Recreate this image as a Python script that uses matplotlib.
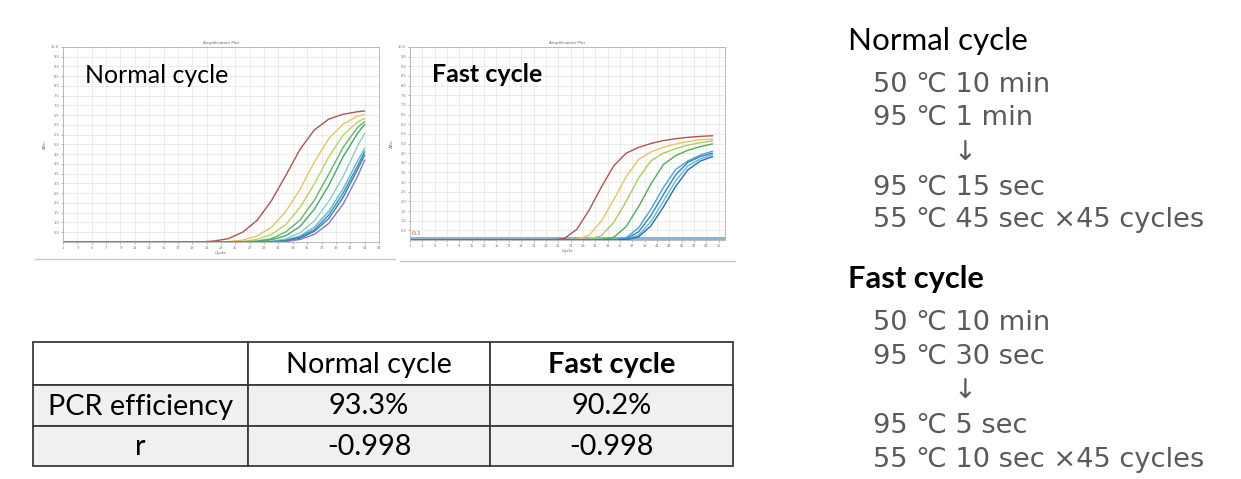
import matplotlib
matplotlib.use("Agg")
import matplotlib.pyplot as plt
from matplotlib.patches import Rectangle

W, H = 1241, 479

# ---- amplification curves, normal cycle (delta Rn)
normal_cycles = [1, 18, 20, 22, 24, 26, 28, 30, 32, 34, 36, 38, 40, 42, 43]
normal_red = [0, 0, 0.0, 0.05, 0.17, 0.5, 1.1, 2.1, 3.4, 4.75, 5.75, 6.3, 6.55, 6.68, 6.72]
normal_yellow = [0, 0, 0, 0, 0.02, 0.1, 0.3, 0.75, 1.55, 2.7, 4.1, 5.3, 6.05, 6.45, 6.53]
normal_ygreen = [0, 0, 0, 0, 0, 0.03, 0.13, 0.38, 0.89, 1.77, 2.98, 4.36, 5.48, 6.15, 6.34]
normal_green = [0, 0, 0, 0, 0, 0, 0.05, 0.17, 0.51, 1.12, 2.14, 3.47, 4.85, 5.87, 6.17]
normal_green2 = [0, 0, 0, 0, 0, 0, 0.02, 0.11, 0.32, 0.79, 1.68, 2.9, 4.37, 5.56, 6.03]
normal_mint = [0, 0, 0, 0, 0, 0, 0, 0.04, 0.16, 0.47, 1.08, 2.08, 3.35, 4.91, 5.57]
normal_lblue = [0, 0, 0, 0, 0, 0, 0, 0.02, 0.1, 0.3, 0.76, 1.57, 2.73, 4.14, 4.8]
normal_blue = [0, 0, 0, 0, 0, 0, 0, 0.01, 0.08, 0.25, 0.63, 1.38, 2.5, 3.89, 4.63]
normal_blue2 = [0, 0, 0, 0, 0, 0, 0, 0, 0.05, 0.19, 0.55, 1.2, 2.29, 3.71, 4.46]
normal_purple = [0, 0, 0, 0, 0, 0, 0, 0, 0.02, 0.13, 0.39, 0.95, 1.94, 3.35, 4.2]

# ---- amplification curves, fast cycle
fast_cycles = [1, 22, 24, 26, 28, 30, 32, 34, 36, 38, 40, 42, 44, 46, 48, 50]
fast_red = [0, 0, 0.0, 0.08, 0.55, 1.55, 2.75, 3.85, 4.5, 4.8, 5.0, 5.15, 5.25, 5.32, 5.37, 5.4]
fast_yellow = [0, 0, 0, 0, 0.03, 0.25, 0.98, 2.1, 3.28, 4.17, 4.56, 4.8, 4.97, 5.1, 5.19, 5.24]
fast_ygreen = [0, 0, 0, 0, 0, 0.03, 0.23, 0.92, 2.0, 3.2, 4.1, 4.5, 4.73, 4.92, 5.04, 5.14]
fast_green = [0, 0, 0, 0, 0, 0, 0.02, 0.14, 0.7, 1.72, 2.9, 3.9, 4.37, 4.65, 4.84, 4.98]
fast_blue1 = [0, 0, 0, 0, 0, 0, 0, 0.01, 0.12, 0.63, 1.59, 2.7, 3.65, 4.1, 4.4, 4.6]
fast_blue2 = [0, 0, 0, 0, 0, 0, 0, 0, 0.06, 0.42, 1.26, 2.34, 3.37, 4.03, 4.32, 4.5]
fast_blue3 = [0, 0, 0, 0, 0, 0, 0, 0, 0.03, 0.25, 0.95, 1.99, 3.06, 3.85, 4.2, 4.42]
fast_blue4 = [0, 0, 0, 0, 0, 0, 0, 0, 0.02, 0.16, 0.73, 1.7, 2.77, 3.64, 4.09, 4.32]
fast_threshold = 0.1

# ---- table
table_header = ["", "Normal cycle", "Fast cycle"]
table_rows = [["PCR efficiency", "93.3%", "90.2%"],
              ["r", "-0.998", "-0.998"]]

# ---- protocols
normal_steps = ["50 \u2103 10 min", "95 \u2103 1 min", "\u2193",
                "95 \u2103 15 sec", "55 \u2103 45 sec \u00d745 cycles"]
fast_steps = ["50 \u2103 10 min", "95 \u2103 30 sec", "\u2193",
              "95 \u2103 5 sec", "55 \u2103 10 sec \u00d745 cycles"]

normal_series = [
    (normal_red, "#b4524c"), (normal_yellow, "#e9c35c"), (normal_ygreen, "#b9d35a"),
    (normal_green, "#62b85e"), (normal_green2, "#3fa96a"), (normal_mint, "#86d2c2"),
    (normal_lblue, "#5db7dd"), (normal_blue, "#2f8fc4"), (normal_blue2, "#3b7db0"),
    (normal_purple, "#8a78b8"),
]
fast_series = [
    (fast_red, "#b4524c"), (fast_yellow, "#e9c35c"), (fast_ygreen, "#a9cf52"),
    (fast_green, "#4fae55"), (fast_blue1, "#4aa3d8"), (fast_blue2, "#2e86c1"),
    (fast_blue3, "#62b8e2"), (fast_blue4, "#2272b0"),
]

LATO = "Lato"
GREY_TXT = "#5a5a5a"


def rect(left, top, right, bottom):
    return [left / W, 1 - bottom / H, (right - left) / W, (bottom - top) / H]


fig = plt.figure(figsize=(W / 100, H / 100), dpi=100)
fig.patch.set_facecolor("white")

# overlay in pixel coordinates for the table and free text
bg = fig.add_axes([0, 0, 1, 1])
bg.set_xlim(0, W)
bg.set_ylim(H, 0)
bg.axis("off")


def amp_plot(box, cycles, series, xmax, xticks, label, bold, threshold=None):
    ax = fig.add_axes(rect(*box))
    ax.set_facecolor("white")
    for ys, col in series:
        ax.plot(cycles, ys, color=col, lw=1.0, solid_capstyle="round")
    if threshold is not None:
        ax.axhline(threshold, color="#8fb3cf", lw=2.2, zorder=1)
        ax.text(1.3, threshold + 0.12, "0.1", color="#c0392b", fontsize=4.5,
                family="DejaVu Serif", va="bottom")
    ax.set_xlim(1, xmax)
    ax.set_ylim(0, 10)
    ax.set_xticks(xticks)
    ax.set_yticks([v / 2 for v in range(1, 21)])
    ax.set_yticklabels([f"{v / 2:.1f}" for v in range(1, 21)])
    ax.grid(True, color="#e4e4e4", lw=0.5)
    ax.set_axisbelow(True)
    ax.tick_params(labelsize=2.6, colors="#777777", length=1.2, width=0.4, pad=1.5)
    for s in ax.spines.values():
        s.set_color("#b0b0b0")
        s.set_linewidth(0.6)
    ax.set_xlabel("Cycle", fontsize=3.2, color="#666666", labelpad=1)
    ax.set_ylabel("\u0394Rn", fontsize=3.2, color="#666666", labelpad=3)
    ax.set_title("Amplification Plot", fontsize=3.0, color="#666666", pad=2)
    ax.text(0.07, 0.855, label, transform=ax.transAxes, fontsize=18,
            family=LATO, fontweight="bold" if bold else "normal",
            va="center", ha="left", color="black")
    return ax


amp_plot((63, 47, 379, 242), normal_cycles, normal_series, 45,
         list(range(1, 46, 2)), "Normal cycle", False)
amp_plot((410, 47, 725, 240), fast_cycles, fast_series, 52,
         list(range(1, 52, 2)), "Fast cycle", True, threshold=fast_threshold)

# screenshot bottom edges
bg.plot([35, 395], [259, 259], color="#c8c8c8", lw=1)
bg.plot([400, 735], [261, 261], color="#c8c8c8", lw=1)

# table
col_x = [33, 248, 490, 733]
row_y = [342, 385, 426, 466]
for r in range(3):
    for c in range(3):
        fill = "white" if r == 0 else "#f0f0f0"
        bg.add_patch(Rectangle((col_x[c], row_y[r]), col_x[c + 1] - col_x[c],
                               row_y[r + 1] - row_y[r], facecolor=fill,
                               edgecolor="#3a3a3a", lw=1.3))
cells = [table_header] + table_rows
for r, row in enumerate(cells):
    for c, txt in enumerate(row):
        cx = (col_x[c] + col_x[c + 1]) / 2
        cy = (row_y[r] + row_y[r + 1]) / 2 + 1
        bold = (r == 0 and c == 2)
        bg.text(cx, cy, txt, fontsize=20.8, family=LATO, ha="center", va="center",
                fontweight="bold" if bold else "normal", color="black")

# protocol text
bg.text(848, 41, "Normal cycle", fontsize=22.6, family=LATO, va="center", ha="left")
bg.text(848, 279, "Fast cycle", fontsize=22.2, family=LATO, fontweight="bold",
        va="center", ha="left")
normal_y = [85, 118, 153, 188, 220]
fast_y = [323, 357, 391, 426, 460]
for steps, ys in ((normal_steps, normal_y), (fast_steps, fast_y)):
    for txt, y in zip(steps, ys):
        x = 965 if txt == "\u2193" else 873
        bg.text(x, y, txt, fontsize=19.6, family=["DejaVu Sans", "Noto Sans CJK JP"],
                color=GREY_TXT, va="center", ha="center" if txt == "\u2193" else "left")

fig.savefig("out.png", dpi=100)
